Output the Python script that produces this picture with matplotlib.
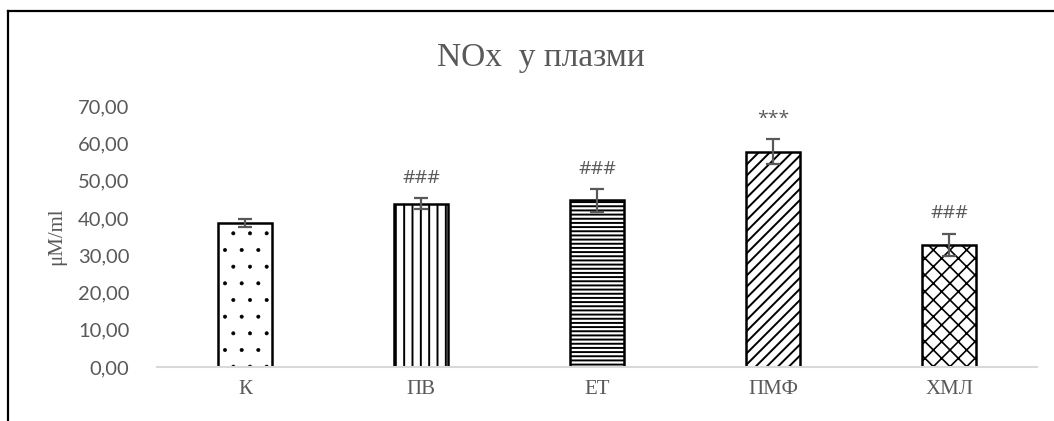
import matplotlib.pyplot as plt
from matplotlib.lines import Line2D

# groups and measured plasma NOx levels
groups = ["К", "ПВ", "ЕТ", "ПМФ", "ХМЛ"]
means = [38.7, 43.8, 44.7, 57.8, 32.8]
errors = [1.0, 1.5, 3.1, 3.4, 3.0]
marks = ["", "###", "###", "***", "###"]
hatches = [".", "||", "----", "///", "xx"]
hatch_widths = [0.4, 1.4, 1.4, 1.4, 1.2]
yticks = [0, 10, 20, 30, 40, 50, 60, 70]

grey = "#595959"
plt.rcParams["hatch.color"] = "black"

fig = plt.figure(figsize=(10.54, 4.21), dpi=100)
ax = fig.add_axes([0.149, 0.128, 0.835, 0.62])

x = range(len(groups))
for i in x:
    with plt.rc_context({"hatch.linewidth": hatch_widths[i]}):
        ax.bar(i, means[i], width=0.31, color="white", edgecolor="black",
               linewidth=1.8, hatch=hatches[i], zorder=2)
ax.errorbar(list(x), means, yerr=errors, fmt="none", ecolor=grey,
            elinewidth=1.6, capsize=5, capthick=1.6, zorder=3)

for i in x:
    if marks[i]:
        ax.text(i, means[i] + errors[i] + 5.4, marks[i], ha="center",
                va="center", fontsize=14, color=grey, family="Open Sans")

ax.set_xlim(-0.5, len(groups) - 0.5)
ax.set_ylim(0, 70)
ax.set_yticks(yticks)
ax.set_yticklabels([f"{v:.2f}".replace(".", ",") for v in yticks],
                   fontsize=14.5, color=grey, family="Lato")
ax.set_xticks(list(x))
ax.set_xticklabels(groups, fontsize=15, color=grey, family="Liberation Serif")
ax.tick_params(length=0, pad=9)
ax.tick_params(axis="y", pad=20)
for side in ["top", "right", "left"]:
    ax.spines[side].set_visible(False)
ax.spines["bottom"].set_color("#d9d9d9")
ax.spines["bottom"].set_linewidth(1.5)

ax.set_ylabel("μM/ml", fontsize=15, color=grey, family="Liberation Serif",
              labelpad=8)
fig.text(0.513, 0.862, "NOx  у плазми", ha="center", va="center",
         fontsize=24, color=grey, family="Liberation Serif")

# chart frame
fig.add_artist(Line2D([0.0076, 1.0], [0.974, 0.974], color="black", lw=1.6))
fig.add_artist(Line2D([0.0076, 0.0076], [0.0, 0.974], color="black", lw=1.6))

fig.savefig("out.png", dpi=100)
